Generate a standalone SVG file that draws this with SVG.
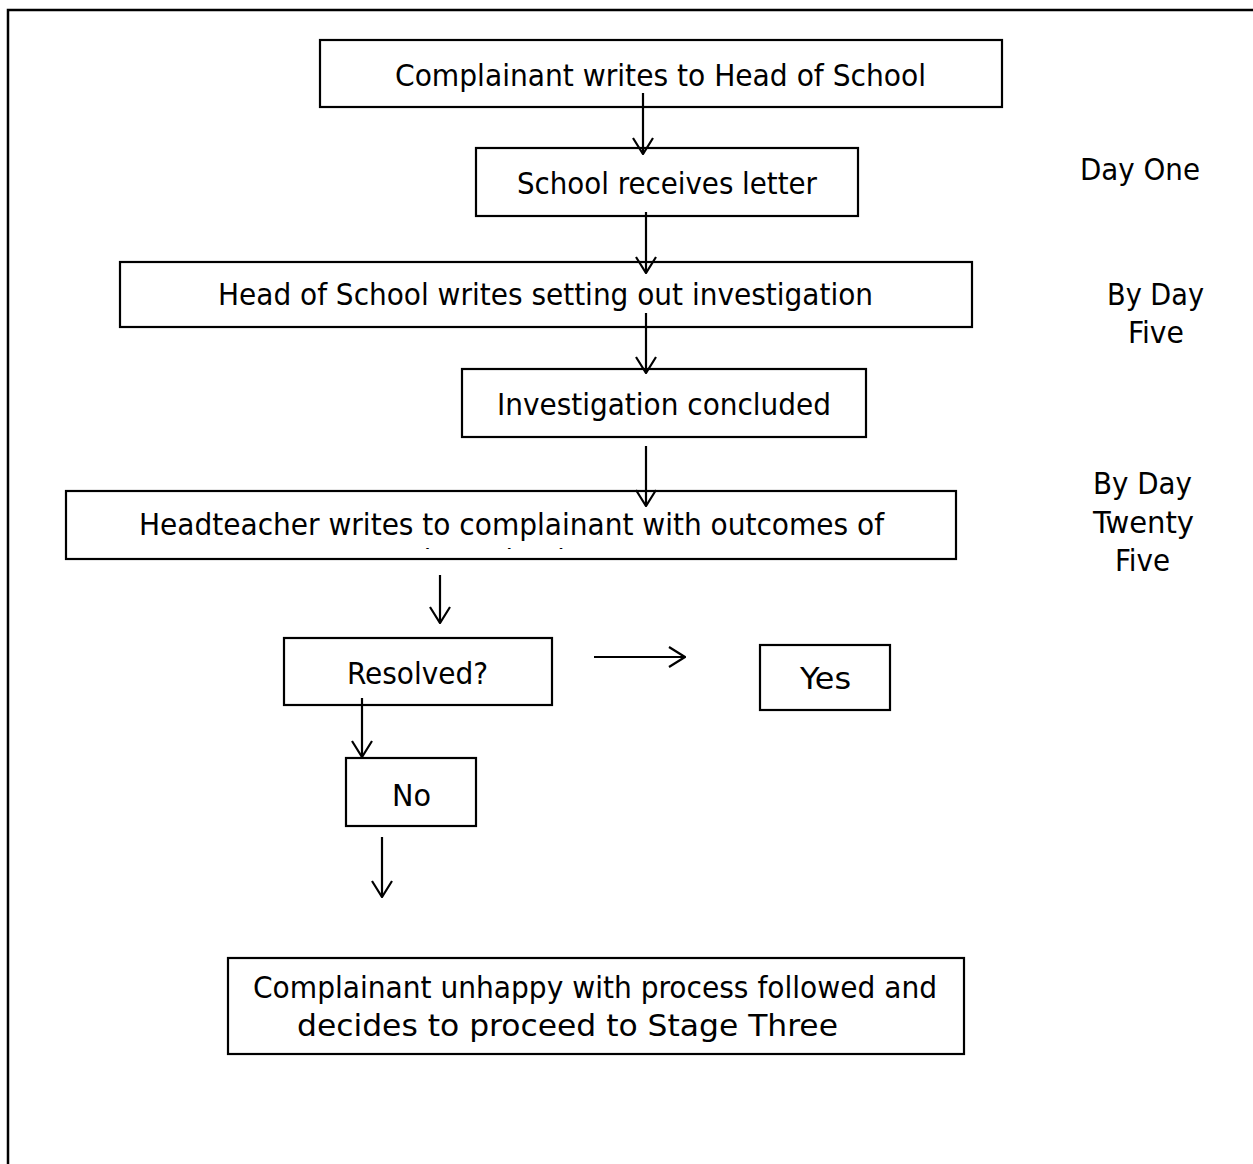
<svg xmlns="http://www.w3.org/2000/svg" width="1253" height="1164" viewBox="0 0 1253 1164">
<style>
.box{fill:#fff;stroke:#000;stroke-width:2.2}
.t{font-family:"DejaVu Sans Condensed","DejaVu Sans",sans-serif;font-size:30px;fill:#000;text-anchor:middle}
.c{stroke:#000;stroke-width:2.2;fill:none}
</style>
<defs>
<marker id="ah" viewBox="0 0 18 22" refX="17" refY="11" markerWidth="18" markerHeight="22" markerUnits="userSpaceOnUse" orient="auto">
<path d="M1,1 L17,11 L1,21" fill="none" stroke="#000" stroke-width="2.2"/>
</marker>
<clipPath id="clip5"><rect x="67" y="492" width="888" height="57"/></clipPath>
</defs>
<rect width="1253" height="1164" fill="#fff"/>
<path d="M8,1164 V10 H1253" fill="none" stroke="#000" stroke-width="2.5"/>

<g id="n1"><rect class="box" x="320" y="40" width="682" height="67"/><text class="t" x="660.5" y="86" textLength="531" lengthAdjust="spacingAndGlyphs">Complainant writes to Head of School</text></g>
<g id="n2"><rect class="box" x="476" y="148" width="382" height="68"/><text class="t" x="667" y="194" textLength="300" lengthAdjust="spacingAndGlyphs">School receives letter</text></g>
<g id="n3"><rect class="box" x="120" y="262" width="852" height="65"/><text class="t" x="545.5" y="305" textLength="655" lengthAdjust="spacingAndGlyphs">Head of School writes setting out investigation</text></g>
<g id="n4"><rect class="box" x="462" y="369" width="404" height="68"/><text class="t" x="664" y="415" textLength="334" lengthAdjust="spacingAndGlyphs">Investigation concluded</text></g>
<g id="n5"><rect class="box" x="66" y="491" width="890" height="68"/><text class="t" x="511.5" y="535" textLength="745" lengthAdjust="spacingAndGlyphs">Headteacher writes to complainant with outcomes of</text><text class="t" x="511" y="571" clip-path="url(#clip5)">investigation</text></g>
<g id="n6"><rect class="box" x="284" y="638" width="268" height="67"/><text class="t" x="417.5" y="684" textLength="141" lengthAdjust="spacingAndGlyphs">Resolved?</text></g>
<g id="n7"><rect class="box" x="760" y="645" width="130" height="65"/><text class="t" x="825.5" y="689" textLength="51" lengthAdjust="spacingAndGlyphs">Yes</text></g>
<g id="n8"><rect class="box" x="346" y="758" width="130" height="68"/><text class="t" x="411.5" y="806" textLength="39" lengthAdjust="spacingAndGlyphs">No</text></g>
<g id="n9"><rect class="box" x="228" y="958" width="736" height="96"/><text class="t" x="595" y="998" textLength="684" lengthAdjust="spacingAndGlyphs">Complainant unhappy with process followed and</text><text class="t" x="567.5" y="1036" textLength="541" lengthAdjust="spacingAndGlyphs">decides to proceed to Stage Three</text></g>

<g id="labels">
<text class="t" x="1140" y="180" textLength="120" lengthAdjust="spacingAndGlyphs">Day One</text>
<text class="t" x="1155.5" y="305" textLength="97" lengthAdjust="spacingAndGlyphs">By Day</text>
<text class="t" x="1156" y="343" textLength="56" lengthAdjust="spacingAndGlyphs">Five</text>
<text class="t" x="1142.5" y="494" textLength="99" lengthAdjust="spacingAndGlyphs">By Day</text>
<text class="t" x="1143.5" y="533" textLength="101" lengthAdjust="spacingAndGlyphs">Twenty</text>
<text class="t" x="1142.5" y="571" textLength="55" lengthAdjust="spacingAndGlyphs">Five</text>
</g>

<g id="connectors">
<line class="c" x1="643" y1="93" x2="643" y2="154" marker-end="url(#ah)"/>
<line class="c" x1="646" y1="212" x2="646" y2="273" marker-end="url(#ah)"/>
<line class="c" x1="646" y1="313" x2="646" y2="373" marker-end="url(#ah)"/>
<line class="c" x1="646" y1="446" x2="646" y2="506" marker-end="url(#ah)"/>
<line class="c" x1="440" y1="575" x2="440" y2="623" marker-end="url(#ah)"/>
<line class="c" x1="594" y1="657" x2="685" y2="657" marker-end="url(#ah)"/>
<line class="c" x1="362" y1="698" x2="362" y2="757" marker-end="url(#ah)"/>
<line class="c" x1="382" y1="837" x2="382" y2="897" marker-end="url(#ah)"/>
</g>
</svg>
